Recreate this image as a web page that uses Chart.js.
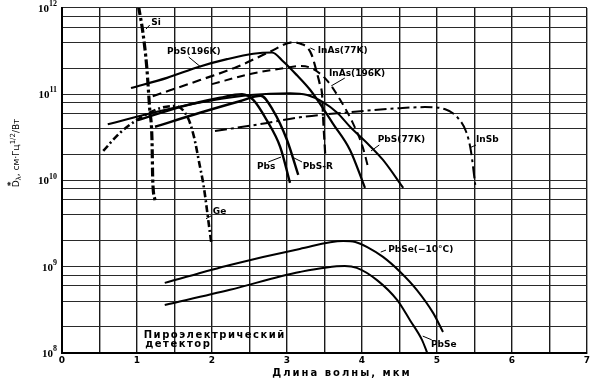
<!DOCTYPE html>
<html><head><meta charset="utf-8">
<script src="https://cdn.jsdelivr.net/npm/chart.js@4"></script>
<style>html,body{margin:0;padding:0;background:#fff;overflow:hidden}</style>
</head><body>
<canvas id="c" width="604" height="379"></canvas>
<script>
// ---- tick labels ----
const xTickLabels = ['0','1','2','3','4','5','6','7'];
const yTickLabels = ['10^8','10^9','10^10','10^11','10^12'];
const yTickValues = [1e8, 1e9, 1e10, 1e11, 1e12];
const yGridMantissas = [1, 2, 4, 6, 8];
const xGridStep = 0.5;

// ---- series (wavelength, um / D*, cm*Hz^1/2/W) ----
const siX = [1.02, 1.08, 1.13, 1.17, 1.20, 1.21, 1.24];
const siY = [1.05e12, 5.1e11, 2.07e11, 6.6e10, 2.95e10, 1.0e10, 5.9e9];

const geX = [0.55, 0.77, 1.04, 1.31, 1.51, 1.68, 1.76, 1.83, 1.89, 1.95, 1.99];
const geY = [2.2e10, 3.55e10, 5.3e10, 6.9e10, 7.3e10, 5.3e10, 3.2e10, 1.6e10, 8.5e9, 3.5e9, 1.9e9];

const pbs196X = [0.92, 1.40, 1.84, 2.20, 2.55, 2.80, 2.95, 3.13, 3.31, 3.47, 3.61, 3.84, 4.04];
const pbs196Y = [1.18e11, 1.55e11, 2.1e11, 2.55e11, 2.95e11, 3.05e11, 2.4e11, 1.67e11, 1.12e11, 7.1e10, 4.6e10, 2.26e10, 8.2e9];

const inas77X = [1.21, 1.84, 2.33, 2.77, 3.08, 3.20, 3.27, 3.33, 3.40, 3.44, 3.47, 3.48, 3.51];
const inas77Y = [9.5e10, 1.46e11, 2.07e11, 3.1e11, 4.0e11, 3.8e11, 3.5e11, 2.85e11, 1.76e11, 1.28e11, 9.3e10, 5.7e10, 1.98e10];

const inas196X = [2.00, 2.51, 2.95, 3.17, 3.33, 3.53, 3.71, 3.88, 4.01, 4.08];
const inas196Y = [1.31e11, 1.72e11, 2.0e11, 2.13e11, 2.0e11, 1.46e11, 8.6e10, 4.6e10, 2.44e10, 1.44e10];

const pbs77X = [0.61, 1.31, 1.97, 2.51, 3.04, 3.27, 3.48, 3.67, 3.84, 4.07, 4.28, 4.55];
const pbs77Y = [4.5e10, 6.4e10, 8.4e10, 9.8e10, 1.03e11, 9.8e10, 8.1e10, 6.1e10, 4.2e10, 2.7e10, 1.73e10, 8.2e9];

const pbsX = [1.01, 1.57, 2.11, 2.40, 2.55, 2.73, 2.91, 3.04];
const pbsY = [5.0e10, 7.1e10, 9.1e10, 1.0e11, 8.6e10, 5.0e10, 2.44e10, 9.4e9];

const pbsRX = [1.24, 1.84, 2.37, 2.65, 2.81, 3.00, 3.15];
const pbsRY = [4.2e10, 6.1e10, 8.3e10, 9.6e10, 6.6e10, 2.95e10, 1.16e10];

const insbX = [2.04, 2.64, 3.17, 3.84, 4.51, 4.84, 5.11, 5.28, 5.39, 5.45, 5.51];
const insbY = [3.75e10, 4.5e10, 5.4e10, 6.2e10, 6.9e10, 7.1e10, 6.7e10, 5.3e10, 3.65e10, 2.26e10, 8.9e9];

const pbse10X = [1.37, 2.24, 3.17, 3.75, 3.91, 4.07, 4.28, 4.51, 4.73, 4.95, 5.08];
const pbse10Y = [6.5e8, 1.05e9, 1.61e9, 1.99e9, 1.94e9, 1.69e9, 1.3e9, 8.7e8, 5.4e8, 2.9e8, 1.75e8];

const pbseX = [1.37, 2.24, 3.17, 3.77, 3.93, 4.20, 4.47, 4.64, 4.80, 4.87];
const pbseY = [3.6e8, 5.4e8, 8.7e8, 1.02e9, 9.7e8, 7.0e8, 4.1e8, 2.4e8, 1.42e8, 1.0e8];

// ---- annotation labels (text anchored in data units) ----
const labels = [
  {t:'Si',          x:1.19, y:6.7e11,  p:[1.17,6.35e11, 1.12,5.7e11]},
  {t:'PbS(196K)',   x:1.40, y:3.09e11, p:[1.69,2.7e11, 1.85,2.07e11]},
  {t:'InAs(77K)',   x:3.41, y:3.17e11, p:[3.31,3.44e11, 3.37,3.26e11]},
  {t:'InAs(196K)',  x:3.56, y:1.72e11, p:[3.77,1.54e11, 3.59,1.25e11]},
  {t:'PbS(77K)',    x:4.21, y:2.95e10, p:[4.23,2.58e10, 4.12,2.2e10]},
  {t:'InSb',        x:5.52, y:2.95e10, p:[5.52,2.58e10, 5.44,2.4e10]},
  {t:'Pbs',         x:2.60, y:1.44e10, p:[2.75,1.64e10, 2.92,1.87e10]},
  {t:'PbS-R',       x:3.21, y:1.44e10, p:[3.20,1.64e10, 3.07,1.87e10]},
  {t:'Ge',          x:2.01, y:4.3e9,   p:[1.99,3.9e9, 1.92,3.6e9]},
  {t:'PbSe(−10°C)', x:4.35, y:1.56e9,  p:[4.25,1.48e9, 4.32,1.56e9]},
  {t:'PbSe',        x:4.92, y:1.24e8,  p:[4.93,1.42e8, 4.81,1.57e8]}
];
const pyroLines = [{t:'Пироэлектрический', x:1.09, y:1.62e8}, {t:'детектор', x:1.11, y:1.27e8}];
const xTitle = 'Длина волны, мкм';

function pts(xs, ys){ return xs.map((x,i)=>({x:x, y:ys[i]})); }
const base = {borderColor:'#000', backgroundColor:'#000', pointRadius:0, fill:false, cubicInterpolationMode:'monotone'};
const datasets = [
  Object.assign({label:'Si', data:pts(siX,siY), borderWidth:3.2, borderDash:[9,3,3,3]}, base),
  Object.assign({label:'Ge', data:pts(geX,geY), borderWidth:2.6, borderDash:[7,3,2,3]}, base),
  Object.assign({label:'PbS(196K)', data:pts(pbs196X,pbs196Y), borderWidth:2.2}, base),
  Object.assign({label:'InAs(77K)', data:pts(inas77X,inas77Y), borderWidth:2.2, borderDash:[9,5]}, base),
  Object.assign({label:'InAs(196K)', data:pts(inas196X,inas196Y), borderWidth:2, borderDash:[8,5]}, base),
  Object.assign({label:'PbS(77K)', data:pts(pbs77X,pbs77Y), borderWidth:2}, base),
  Object.assign({label:'PbS', data:pts(pbsX,pbsY), borderWidth:2.4}, base),
  Object.assign({label:'PbS-R', data:pts(pbsRX,pbsRY), borderWidth:2.4}, base),
  Object.assign({label:'InSb', data:pts(insbX,insbY), borderWidth:2, borderDash:[12,4,3,4]}, base),
  Object.assign({label:'PbSe(-10C)', data:pts(pbse10X,pbse10Y), borderWidth:2}, base),
  Object.assign({label:'PbSe', data:pts(pbseX,pbseY), borderWidth:2}, base)
];

const yGrid = [];
for (let n = 8; n < 12; n++) yGridMantissas.forEach(m => yGrid.push(m * Math.pow(10, n)));
yGrid.push(1e12);
const xGrid = [];
for (let i = 0; i <= 14; i++) xGrid.push(i * xGridStep);

const textPlugin = {
  id: 'texts',
  beforeDraw(chart){
    const c = chart.ctx; c.save(); c.fillStyle = '#fff'; c.fillRect(0,0,chart.width,chart.height); c.restore();
  },
  afterDraw(chart){
    const c = chart.ctx, xs = chart.scales.x, ys = chart.scales.y;
    c.save();
    c.fillStyle = '#000'; c.strokeStyle = '#000';
    // y tick labels with superscripts
    yTickLabels.forEach((lab, i) => {
      const parts = lab.split('^');
      const py = ys.getPixelForValue(yTickValues[i]);
      c.font = 'bold 8px "Liberation Serif"';
      const ew = c.measureText(parts[1]).width;
      c.font = 'bold 11px "Liberation Serif"';
      const bw = c.measureText(parts[0]).width;
      const right = 57;
      c.textBaseline = 'middle'; c.textAlign = 'left';
      c.fillText(parts[0], right - ew - bw, py + 1);
      c.font = 'bold 8px "Liberation Serif"';
      c.fillText(parts[1], right - ew, py - 4);
    });
    // annotations
    c.font = 'bold 9px "DejaVu Sans"';
    c.textBaseline = 'middle'; c.textAlign = 'left'; c.lineWidth = 1;
    labels.forEach(l => {
      c.fillText(l.t, xs.getPixelForValue(l.x), ys.getPixelForValue(l.y));
      c.beginPath();
      c.moveTo(xs.getPixelForValue(l.p[0]), ys.getPixelForValue(l.p[1]));
      c.lineTo(xs.getPixelForValue(l.p[2]), ys.getPixelForValue(l.p[3]));
      c.stroke();
    });
    c.font = 'bold 10px "DejaVu Sans"';
    c.letterSpacing = '1.5px';
    pyroLines.forEach(l => c.fillText(l.t, xs.getPixelForValue(l.x), ys.getPixelForValue(l.y)));
    // x title
    c.letterSpacing = '2px';
    c.textAlign = 'center';
    c.fillText(xTitle, 342, 373);
    c.letterSpacing = '0px';
    // y title (rotated, with sup/sub)
    c.translate(17, 153); c.rotate(-Math.PI/2);
    const pieces = [
      {t:'D', f:'9px "DejaVu Sans"', dy:0},
      {t:'*', f:'bold 9px "DejaVu Sans"', dy:-5, back:true},
      {t:'λ', f:'7px "DejaVu Sans"', dy:2},
      {t:', см·Гц', f:'9px "DejaVu Sans"', dy:0},
      {t:'1/2', f:'7px "DejaVu Sans"', dy:-4},
      {t:'/Вт', f:'9px "DejaVu Sans"', dy:0}
    ];
    let total = 0;
    pieces.forEach(p => { c.font = p.f; p.w = c.measureText(p.t).width; if (!p.back) total += p.w; });
    let cx = -total/2;
    c.textAlign = 'left'; c.textBaseline = 'middle';
    let lastX = cx;
    pieces.forEach(p => {
      c.font = p.f;
      if (p.back) { c.fillText(p.t, lastX + 1, p.dy); return; }
      c.fillText(p.t, cx, p.dy);
      lastX = cx; cx += p.w;
    });
    c.restore();
  }
};

new Chart(document.getElementById('c'), {
  type: 'line',
  data: { datasets: datasets },
  plugins: [textPlugin],
  options: {
    responsive: false, animation: false, devicePixelRatio: 1,
    layout: { padding: { left: 0, right: 17, top: 8, bottom: 0 } },
    plugins: { legend: { display: false }, tooltip: { enabled: false } },
    scales: {
      x: {
        type: 'linear', min: 0, max: 7,
        afterFit(s){ s.height = 26; },
        afterBuildTicks(s){ s.ticks = xGrid.map(v => ({value: v})); },
        ticks: { autoSkip: false, maxRotation: 0, padding: 2, color: '#000',
          font: { family: 'DejaVu Sans', size: 9, weight: 'bold' },
          callback: (v) => Number.isInteger(v) ? xTickLabels[v] : '' },
        grid: { color: '#1a1a1a', lineWidth: 1.4, drawTicks: false },
        border: { color: '#000', width: 2 }
      },
      y: {
        type: 'logarithmic', min: 1e8, max: 1e12,
        afterFit(s){ s.width = 62; },
        afterBuildTicks(s){ s.ticks = yGrid.map(v => ({value: v})); },
        ticks: { display: false },
        grid: { color: '#2a2a2a', lineWidth: 1.1, drawTicks: false },
        border: { color: '#000', width: 2 }
      }
    }
  }
});
</script>
</body></html>
